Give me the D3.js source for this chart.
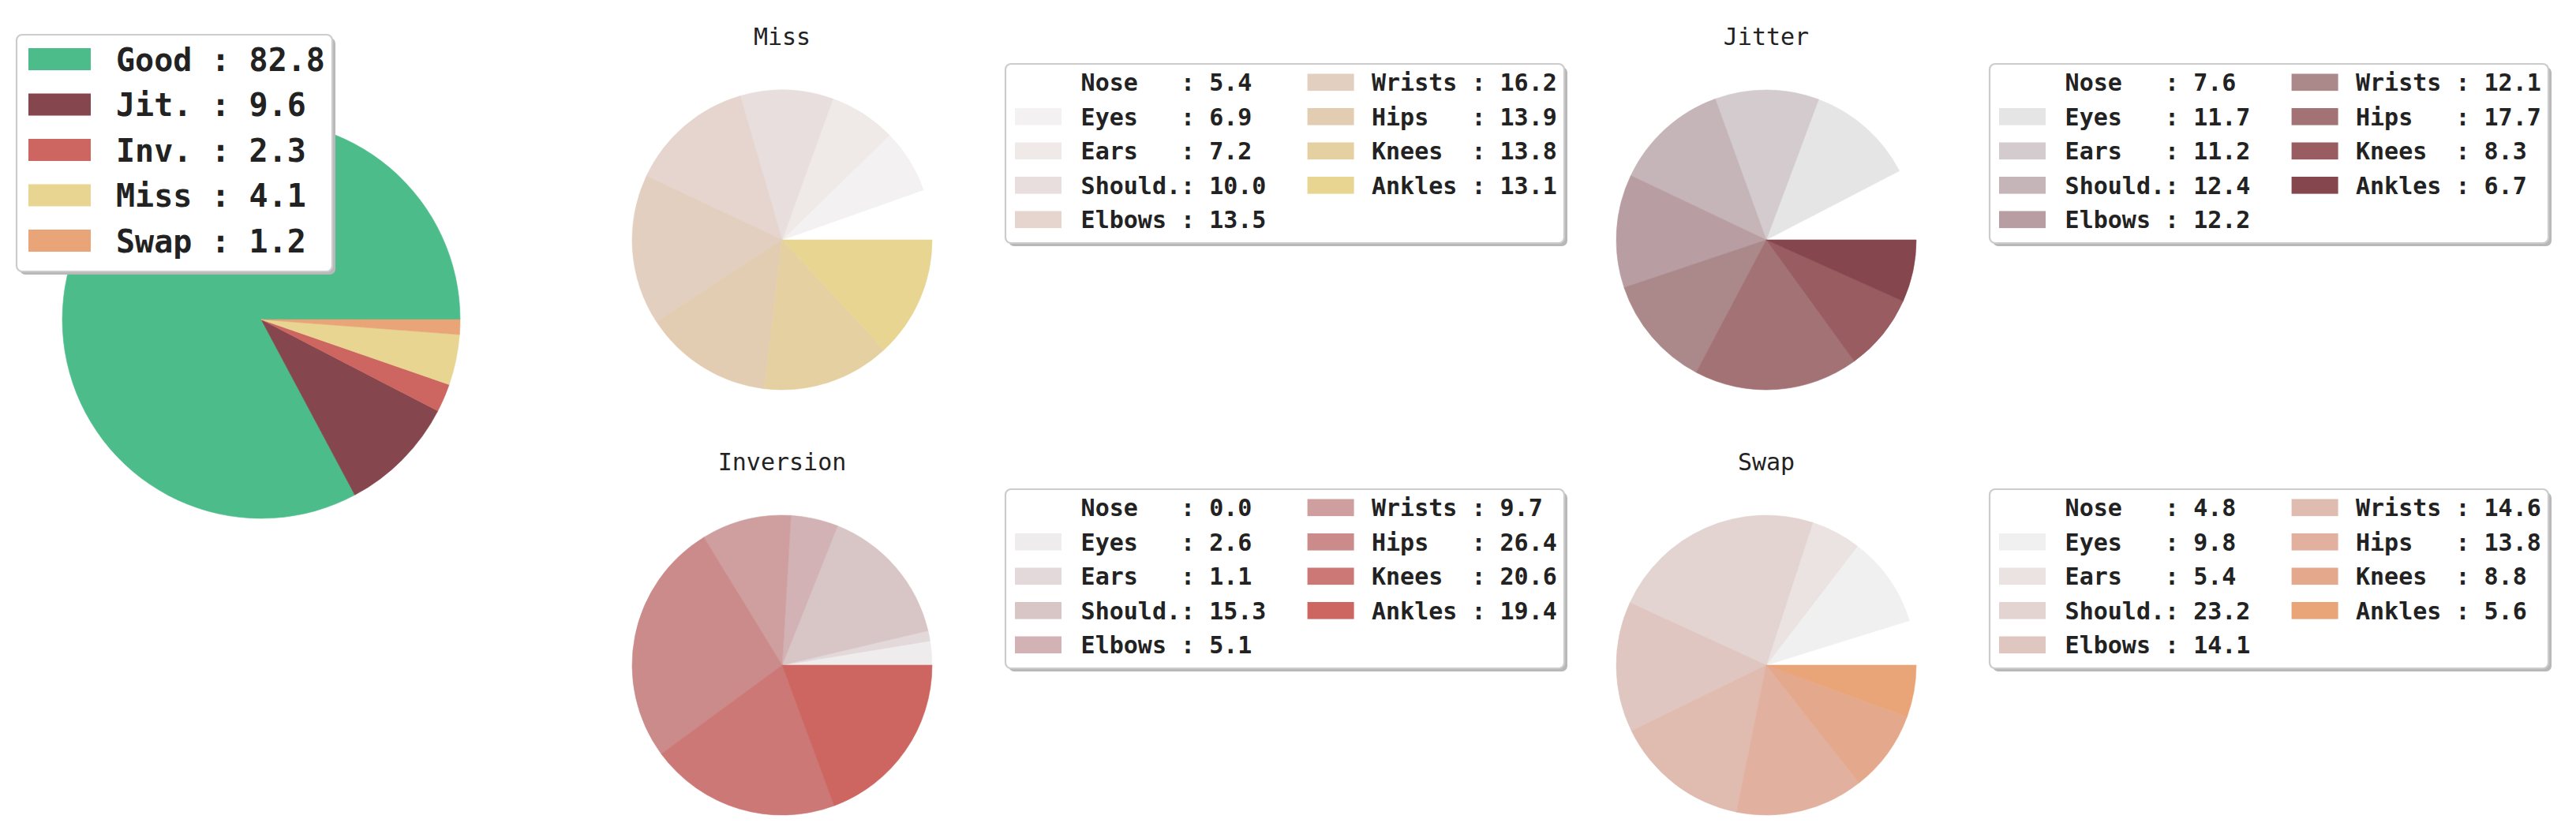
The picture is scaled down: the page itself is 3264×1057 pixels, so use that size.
<!DOCTYPE html>
<html><head><meta charset="utf-8">
<script src="https://cdn.jsdelivr.net/npm/d3@7"></script>
<style>
html,body{margin:0;padding:0;background:#fff;}
svg{display:block;}
text{font-family:"DejaVu Sans Mono", monospace; fill:#222;}
</style>
</head><body>
<svg id="chart" width="3264" height="1057"></svg>
<script>
// ---------- data ----------
const mainCategories = ["Good", "Jit.", "Inv.", "Miss", "Swap"];
const mainValues = [82.8, 9.6, 2.3, 4.1, 1.2];

const bodyParts = ["Nose", "Eyes", "Ears", "Should.", "Elbows", "Wrists", "Hips", "Knees", "Ankles"];
const panelTitles = ["Miss", "Jitter", "Inversion", "Swap"];
const missValues      = [5.4, 6.9, 7.2, 10.0, 13.5, 16.2, 13.9, 13.8, 13.1];
const jitterValues    = [7.6, 11.7, 11.2, 12.4, 12.2, 12.1, 17.7, 8.3, 6.7];
const inversionValues = [0.0, 2.6, 1.1, 15.3, 5.1, 9.7, 26.4, 20.6, 19.4];
const swapValues      = [4.8, 9.8, 5.4, 23.2, 14.1, 14.6, 13.8, 8.8, 5.6];

// ---------- styles ----------
const mainColors = ["#4cbd8a", "#85474d", "#cd6661", "#e8d592", "#e9a477"];
const missColors      = ["#ffffff","#f3f1f2","#efe9e8","#e8dedd","#e6d5ce","#e3cfbf","#e3cdb2","#e5d0a1","#e8d592"];
const jitterColors    = ["#ffffff","#e5e5e5","#d3cbcd","#c5b5b8","#b89ea2","#ab888a","#a27275","#985c61","#85474d"];
const inversionColors = ["#ffffff","#eeecec","#e3d8da","#d8c5c6","#d2b2b4","#cf9fa0","#cb8b8a","#cc7876","#cd6661"];
const swapColors      = ["#ffffff","#f1f0f0","#ebe3e2","#e3d3d1","#e0c6c1","#e0bbb0","#e2b09f","#e4a98c","#e9a477"];

const svg = d3.select("#chart");
const NBSP = "\u00A0";

const pie = d3.pie().value(d => d).sort(null)
  .startAngle(Math.PI / 2).endAngle(Math.PI / 2 - 2 * Math.PI);

function drawPie(g, values, colors, r) {
  const arc = d3.arc().innerRadius(0).outerRadius(r);
  g.selectAll("path").data(pie(values)).join("path")
    .attr("d", arc)
    .attr("fill", (d, i) => colors[i])
    .attr("stroke", (d, i) => colors[i])
    .attr("stroke-width", 0.6);
}

function legendFrame(g, x, y, w, h) {
  g.append("rect").attr("x", x + 4).attr("y", y + 4).attr("width", w).attr("height", h)
    .attr("rx", 7).attr("fill", "#b8b8b8");
  g.append("rect").attr("x", x).attr("y", y).attr("width", w).attr("height", h)
    .attr("rx", 7).attr("fill", "#ffffff").attr("stroke", "#cccccc").attr("stroke-width", 2.2);
}

// ---------- main pie ----------
const mainG = svg.append("g").attr("transform", "translate(331,405)");
drawPie(mainG, mainValues, mainColors, 252);

const mainLeg = svg.append("g");
legendFrame(mainLeg, 21, 44, 400, 300);
mainCategories.forEach((c, i) => {
  const cy = 75 + i * 57.5;
  mainLeg.append("rect").attr("x", 36).attr("y", cy - 14).attr("width", 79).attr("height", 28)
    .attr("fill", mainColors[i]);
  mainLeg.append("text").attr("x", 147).attr("y", cy + 14.6)
    .style("font-size", "40px").style("font-weight", "bold")
    .text((c.padEnd(4, " ") + " : " + mainValues[i].toFixed(1)).replace(/ /g, NBSP));
});

// ---------- sub pies ----------
const panels = [
  { title: panelTitles[0], values: missValues,      colors: missColors,      col: 0, row: 0 },
  { title: panelTitles[1], values: jitterValues,    colors: jitterColors,    col: 1, row: 0 },
  { title: panelTitles[2], values: inversionValues, colors: inversionColors, col: 0, row: 1 },
  { title: panelTitles[3], values: swapValues,      colors: swapColors,      col: 1, row: 1 }
];

panels.forEach(p => {
  const cx = 991 + 1247 * p.col;
  const cy = 304 + 539 * p.row;
  const g = svg.append("g");
  g.append("text").attr("x", cx).attr("y", cy - 247).attr("text-anchor", "middle")
    .style("font-size", "30px").text(p.title);
  const pg = g.append("g").attr("transform", `translate(${cx},${cy})`);
  drawPie(pg, p.values, p.colors, 190);

  const lx = 1274 + 1247 * p.col;
  const ly = 81 + 539 * p.row;
  legendFrame(g, lx, ly, 708, 227);
  bodyParts.forEach((b, i) => {
    const colIdx = i < 5 ? 0 : 1;
    const rowIdx = i < 5 ? i : i - 5;
    const rc = ly + 23.3 + rowIdx * 43.5;
    const px = lx + (colIdx === 0 ? 12 : 382.6);
    const tx = lx + (colIdx === 0 ? 95.6 : 464);
    g.append("rect").attr("x", px).attr("y", rc - 10.8).attr("width", 59).attr("height", 21.6)
      .attr("fill", p.colors[i]);
    g.append("text").attr("x", tx).attr("y", rc + 10.9)
      .style("font-size", "30px").style("font-weight", "bold")
      .text((b.padEnd(7, " ") + ": " + p.values[i].toFixed(1)).replace(/ /g, NBSP));
  });
});
</script>
</body></html>
